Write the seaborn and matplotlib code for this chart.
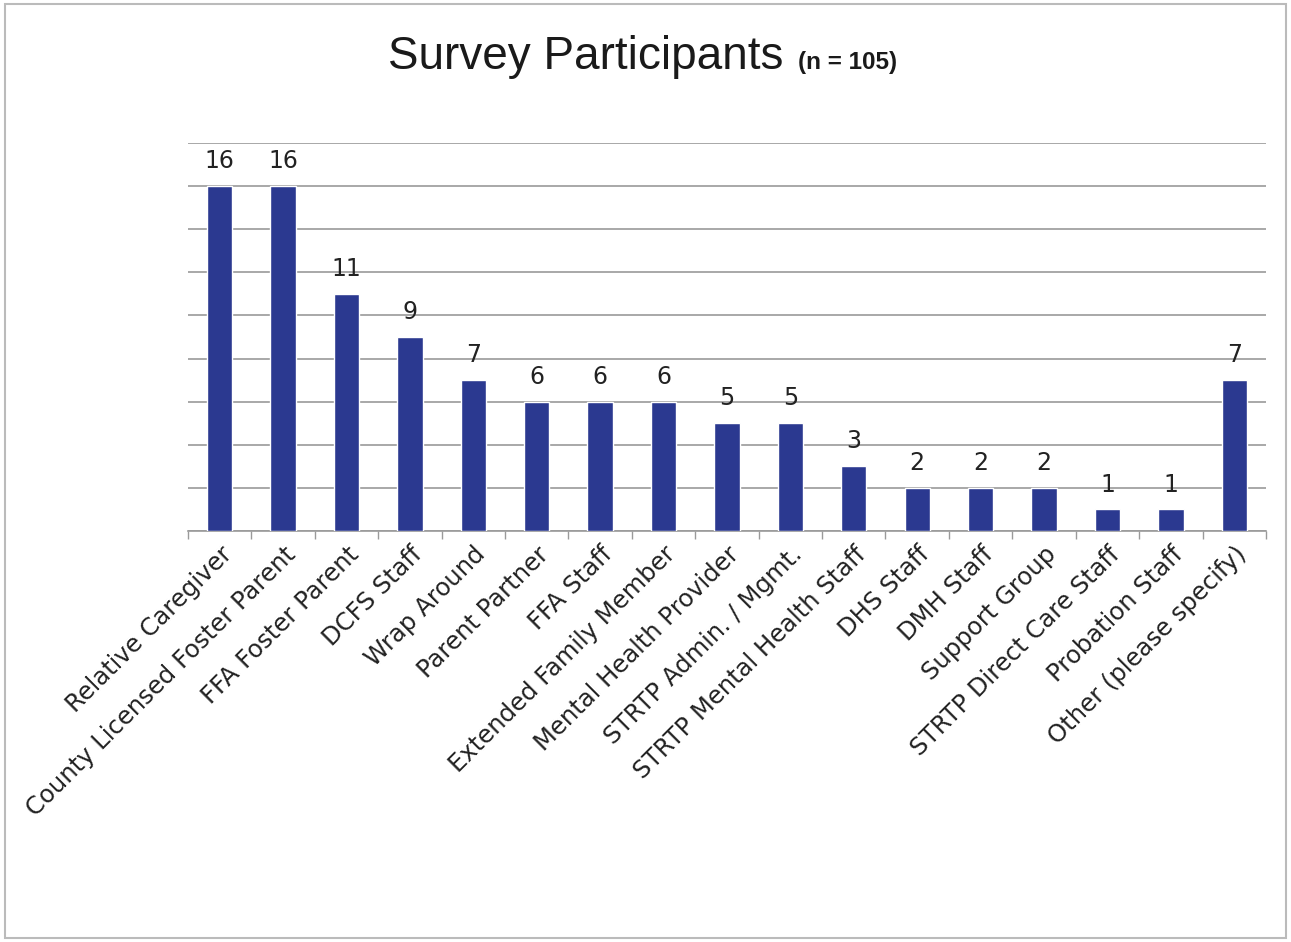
import matplotlib
matplotlib.use('Agg')
import matplotlib.pyplot as plt
import seaborn as sns
import pandas as pd

categories = [
    'Relative Caregiver', 'County Licensed Foster Parent', 'FFA Foster Parent',
    'DCFS Staff', 'Wrap Around', 'Parent Partner', 'FFA Staff',
    'Extended Family Member', 'Mental Health Provider', 'STRTP Admin. / Mgmt.',
    'STRTP Mental Health Staff', 'DHS Staff', 'DMH Staff', 'Support Group',
    'STRTP Direct Care Staff', 'Probation Staff', 'Other (please specify)',
]
counts = [16, 16, 11, 9, 7, 6, 6, 6, 5, 5, 3, 2, 2, 2, 1, 1, 7]

df = pd.DataFrame({'category': categories, 'count': counts})

sns.set_theme(style='white')
plt.rcParams['font.family'] = ['DejaVu Sans']

fig = plt.figure(figsize=(12.91, 9.42), dpi=100)
ax = fig.add_axes([0.1456, 0.4363, 0.835, 0.4119])

sns.barplot(data=df, x='category', y='count', color='#2b3990',
            width=0.4, saturation=1, ax=ax, zorder=3)

ax.set_ylim(0, 18)
ax.set_xlim(-0.5, len(categories) - 0.5)
ax.set_yticks(range(0, 19, 2))
ax.set_yticklabels([])
ax.yaxis.grid(True, color='#9a9a9a', linewidth=1.2, zorder=0)
ax.tick_params(axis='y', length=0)
ax.set_xlabel('')
ax.set_ylabel('')

# tick marks at category boundaries
ax.set_xticks([i + 0.5 for i in range(-1, len(categories))], minor=True)
ax.tick_params(axis='x', which='minor', length=6, color='#9a9a9a', bottom=True)
ax.tick_params(axis='x', which='major', length=0, pad=8)
ax.set_xticks(range(len(categories)))
ax.set_xticklabels(categories, rotation=45, ha='right', rotation_mode='anchor',
                   fontsize=17.5, color='#222222')

for s in ['top', 'right', 'left']:
    ax.spines[s].set_visible(False)
ax.spines['bottom'].set_color('#9a9a9a')
ax.spines['bottom'].set_linewidth(1.2)

for i, v in enumerate(counts):
    ax.text(i, v + 0.6, str(v), ha='center', va='bottom', fontsize=17,
            color='#222222', zorder=4)

fig.text(0.607, 0.94, 'Survey Participants', ha='right', va='center',
         fontsize=33, family='Liberation Sans', color='#1a1a1a')
fig.text(0.618, 0.934, '(n = 105)', ha='left', va='center',
         fontsize=17.5, fontweight='bold', family='Liberation Sans', color='#1a1a1a')

# light frame around the chart
fig.patches.append(plt.Rectangle((0.004, 0.004), 0.992, 0.992, transform=fig.transFigure,
                                 fill=False, edgecolor='#bbbbbb', linewidth=1.5))

fig.savefig('out.png', dpi=100)
